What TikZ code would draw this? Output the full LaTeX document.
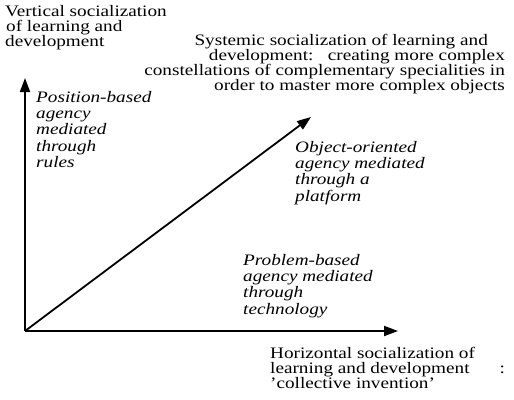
\documentclass[tikz,border=0pt]{standalone}
\usepackage{fontspec}
\setmainfont{Liberation Serif}[FakeStretch=1.2]
\usetikzlibrary{arrows.meta}

\begin{document}
\begin{tikzpicture}[x=1pt, y=-1pt, >={Triangle[length=14pt,width=10pt]},
        every node/.style={inner sep=0pt, anchor=north west, align=left, font=\fontsize{16}{15}\selectfont},
        agency/.style={font=\fontsize{16}{16.3}\selectfont\itshape},
        axis/.style={line width=1.8pt, ->}]
        \useasboundingbox (0,0) rectangle (514,399);
        % axes
        \coordinate (o) at (25,331);
        \coordinate (vtip) at (25,78);
        \coordinate (htip) at (398,331);
        \coordinate (stip) at (311,117);
        \draw[axis] (o) -- (vtip);
        \draw[axis] (o) -- (htip);
        \draw[axis] (o) -- (stip);
        % axis titles
        \node (vs) at (5,5) {Vertical socialization\\\hspace*{1pt}of learning and\\development};
        \node (hs) at (270,347) {Horizontal socialization of\\learning and development\hspace{30pt}:\\’collective invention’};
        \node[anchor=north east, align=right] (ss) at (505,34) {Systemic socialization of learning and\hspace*{17pt}\\development:\ \ \ creating more complex\\constellations of complementary specialities in\\order to master more complex objects};
        % forms of agency
        \node[agency] (pb) at (36,91) {Position-based\\agency\\mediated\\through\\rules};
        \node[agency] (oo) at (295,141) {Object-oriented\\agency mediated\\through a\\platform};
        \node[agency] (pr) at (243,254) {Problem-based\\agency mediated\\through\\technology};
\end{tikzpicture}
\end{document}
